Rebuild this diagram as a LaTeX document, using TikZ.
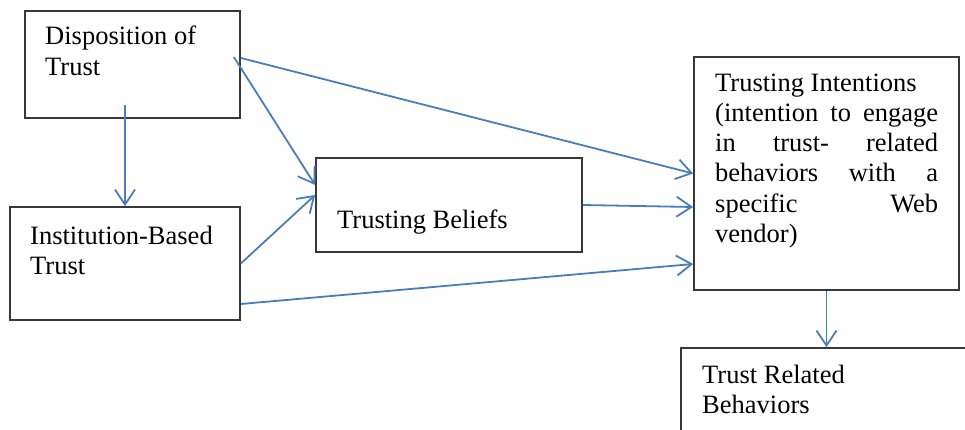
\documentclass[tikz,border=0pt]{standalone}
\usepackage{fontspec}
\setmainfont{Liberation Serif}
\usetikzlibrary{arrows.meta,calc}
\definecolor{arrblue}{HTML}{4A7EBB}
\definecolor{boxgray}{HTML}{383838}
\begin{document}
\begin{tikzpicture}[x=1pt,y=-1pt,
  box/.style={draw=boxgray,line width=1.7pt,inner sep=0pt},
  txt/.style={anchor=base west,inner sep=0pt,font=\fontsize{26.5}{30}\selectfont},
  arr/.style={draw=arrblue,line width=1.8pt,-{Straight Barb[length=15pt,width=20pt]}}]
\useasboundingbox (0,0) rectangle (965,430);
\clip (0,0) rectangle (965,430);
% boxes
\node[box,minimum width=215pt,minimum height=107pt] (disp) at (132.5,64.5) {};
\node[box,minimum width=230pt,minimum height=113pt] (inst) at (125,263.5) {};
\node[box,minimum width=266pt,minimum height=94pt] (beliefs) at (449,205) {};
\node[box,minimum width=265pt,minimum height=233pt] (intent) at (826.5,173.5) {};
\node[box,minimum width=291pt,minimum height=102pt] (trb) at (826.5,399) {};
% texts
\node[txt] (dispA) at (45,45) {Disposition of};
\node[txt] (dispB) at (45,76) {Trust};
\node[txt] (instA) at (30,244) {Institution-Based};
\node[txt] (instB) at (30,274) {Trust};
\node[txt] (belA) at (337,229) {Trusting Beliefs};
\node[txt] (intA) at (715,92) {Trusting Intentions};
\node[txt] (intB) at (715,122) {\makebox[223pt][l]{(intention\hfill to\hfill engage}};
\node[txt] (intC) at (715,152) {\makebox[223pt][l]{in\hfill trust-\hfill related}};
\node[txt] (intD) at (715,182) {\makebox[223pt][l]{behaviors\hfill with\hfill a}};
\node[txt] (intE) at (715,212) {\makebox[223pt][l]{specific\hfill Web}};
\node[txt] (intF) at (715,242) {vendor)};
\node[txt] (trbA) at (702,383) {Trust Related};
\node[txt] (trbB) at (702,413) {Behaviors};
% arrows
\draw[arr] ($(inst.north |- disp.south)+(0,-14)$) -- (inst.north);
\draw[arr] ($(disp.east)+(-7,-7.5)$) -- ($(beliefs.west)+(0,-20)$);
\draw[arr] ($(disp.east)+(0,-6.5)$) -- (intent.west);
\draw[arr] (inst.east) -- ($(beliefs.west)+(0,-10)$);
\draw[arr] (beliefs.east) -- ($(intent.west)+(0,33.5)$);
\draw[arr] ($(inst.east)+(0,40.5)$) -- ($(intent.west)+(0,90.5)$);
\draw[arr] (intent.south) -- (trb.north);
\end{tikzpicture}
\end{document}
